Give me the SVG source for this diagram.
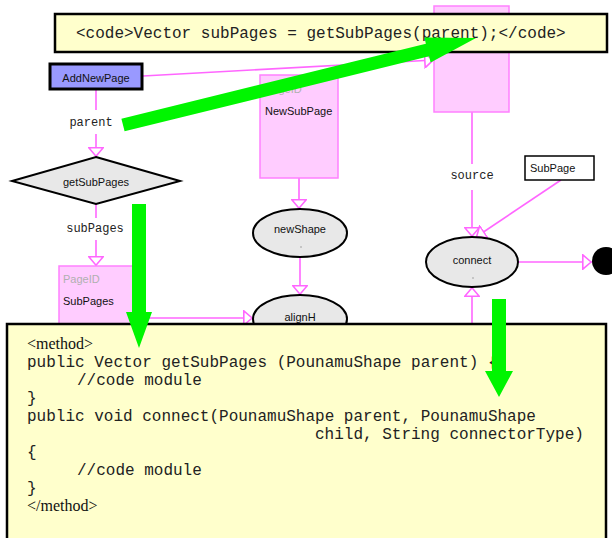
<svg xmlns="http://www.w3.org/2000/svg" width="612" height="538" viewBox="0 0 612 538">
  <style>
    .sans { font-family: "Liberation Sans", Arial, sans-serif; font-size: 11px; fill: #111; }
    .mono { font-family: "Liberation Mono", "Courier New", monospace; fill: #222; }
    .serif { font-family: "Liberation Serif", "Times New Roman", serif; font-size: 16px; fill: #111; }
    .page { fill: #ffccff; stroke: #ff80ff; stroke-width: 1.5; }
    .op { fill: #e8e8e8; stroke: #000; stroke-width: 2; }
    .wire { fill: none; stroke: #ff66ff; stroke-width: 1.6; }
    .code { fill: #ffffcc; stroke: #000; stroke-width: 2.5; }
    .hint { fill: #00f500; }
    .dim { fill: #b0b0b0; }
  </style>
  <defs>
    <marker id="open" viewBox="0 0 10 16" refX="10" refY="8" markerWidth="10" markerHeight="16" markerUnits="userSpaceOnUse" orient="auto">
      <path d="M0.8,0.8 L9.2,8 L0.8,15.2 Z" fill="#fff" stroke="#ff66ff" stroke-width="1.6"/>
    </marker>
  </defs>
  <rect width="612" height="538" fill="#fff"/>

  <!-- connectors -->
  <g id="connectors">
    <path class="wire" d="M143,76 L434,60" marker-end="url(#open)"/>
    <path class="wire" d="M96,89 V110"/>
    <path class="wire" d="M96,134 V157" marker-end="url(#open)"/>
    <path class="wire" d="M96,204 V218"/>
    <path class="wire" d="M96,240 V266" marker-end="url(#open)"/>
    <path class="wire" d="M134,318 H253" marker-end="url(#open)"/>
    <path class="wire" d="M299,178 V209" marker-end="url(#open)"/>
    <path class="wire" d="M300,257 V295" marker-end="url(#open)"/>
    <path class="wire" d="M472,112 V164"/>
    <path class="wire" d="M472,190 V237" marker-end="url(#open)"/>
    <path class="wire" d="M561,180 L476,237" marker-end="url(#open)"/>
    <path class="wire" d="M518,262 H592" marker-end="url(#open)"/>
    <path class="wire" d="M472,326 V287" marker-end="url(#open)"/>
    <text class="mono" x="91" y="126" font-size="12" text-anchor="middle">parent</text>
    <text class="mono" x="95" y="232" font-size="12" text-anchor="middle">subPages</text>
    <text class="mono" x="472" y="179" font-size="12" text-anchor="middle">source</text>
  </g>

  <!-- nodes -->
  <g id="addNewPage">
    <rect x="50" y="64" width="92" height="25" fill="#9999ff" stroke="#000" stroke-width="3"/>
    <text class="sans" x="96" y="82" text-anchor="middle">AddNewPage</text>
  </g>
  <g id="getSubPages">
    <polygon class="op" points="96,157 180,181 96,204 12,181"/>
    <text class="sans" x="96" y="186" text-anchor="middle">getSubPages</text>
  </g>
  <g id="subPagesPage">
    <rect class="page" x="59" y="266" width="75" height="80"/>
    <text class="sans dim" x="63" y="283">PageID</text>
    <text class="sans" x="63" y="305">SubPages</text>
  </g>
  <g id="newSubPage">
    <rect class="page" x="260" y="75" width="78" height="103"/>
    <text class="sans dim" x="265" y="93">PageID</text>
    <text class="sans" x="265" y="115">NewSubPage</text>
  </g>
  <g id="newShape">
    <ellipse class="op" cx="300" cy="233" rx="47" ry="24"/>
    <text class="sans" x="300" y="233" text-anchor="middle">newShape</text>
    <circle cx="301" cy="247" r="0.8" fill="#999"/>
  </g>
  <g id="alignH">
    <ellipse class="op" cx="300" cy="319" rx="47" ry="24"/>
    <text class="sans" x="300" y="321" text-anchor="middle">alignH</text>
  </g>
  <g id="sourcePage">
    <rect class="page" x="434" y="6" width="75" height="106"/>
  </g>
  <g id="subPage">
    <rect x="525" y="156" width="69" height="24" fill="#fff" stroke="#000" stroke-width="1.5"/>
    <text class="sans" x="530" y="172">SubPage</text>
  </g>
  <g id="connect">
    <ellipse class="op" cx="472" cy="262" rx="46" ry="25"/>
    <text class="sans" x="472" y="264" text-anchor="middle">connect</text>
    <circle cx="473" cy="278" r="0.8" fill="#999"/>
  </g>
  <g id="endPoint">
    <circle cx="606" cy="261" r="14" fill="#000"/>
  </g>

  <!-- code annotations -->
  <g id="codeLine">
    <rect class="code" x="55" y="14" width="552" height="38"/>
    <text class="mono" x="76" y="38" font-size="16">&lt;code&gt;Vector subPages = getSubPages(parent);&lt;/code&gt;</text>
  </g>
  <g id="methodBlock">
    <rect class="code" x="7" y="324" width="599" height="224"/>
    <text class="serif" x="27" y="349">&lt;method&gt;</text>
    <text class="mono" font-size="16">
      <tspan x="27" y="367">public Vector getSubPages (PounamuShape parent) {</tspan>
      <tspan x="77" y="385">//code module</tspan>
      <tspan x="27" y="403">}</tspan>
      <tspan x="27" y="421">public void connect(PounamuShape parent, PounamuShape</tspan>
      <tspan x="315" y="439">child, String connectorType)</tspan>
      <tspan x="27" y="457">{</tspan>
      <tspan x="77" y="475">//code module</tspan>
      <tspan x="27" y="493">}</tspan>
    </text>
    <text class="serif" x="27" y="511">&lt;/method&gt;</text>
  </g>

  <!-- highlight arrows -->
  <g id="highlights">
    <polygon class="hint" points="121.4,118.7 425.9,43.7 424.4,37.4 476,38 430.6,62.6 429.1,56.3 124.6,131.3"/>
    <polygon class="hint" points="132,204 146,204 146,312 152,312 139,348 126,312 132,312"/>
    <polygon class="hint" points="492,299 506,299 506,371 513,371 499,397 485,371 492,371"/>
  </g>
</svg>
